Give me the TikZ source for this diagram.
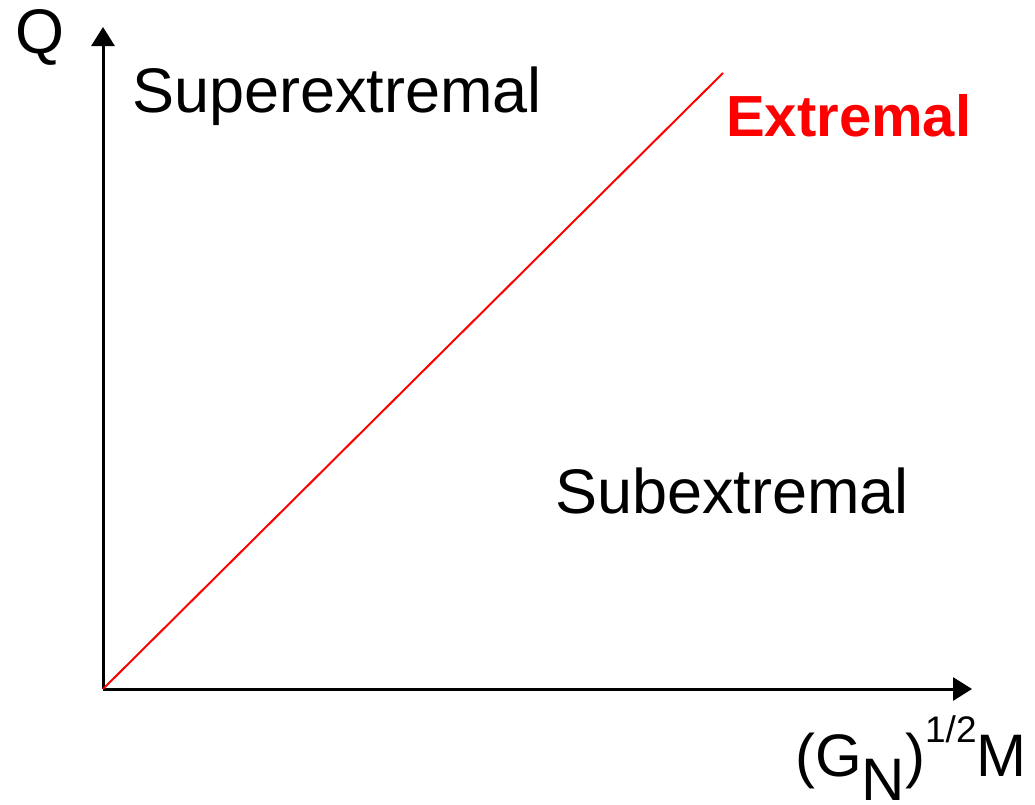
\documentclass[tikz,border=0pt]{standalone}
\usepackage{fontspec}
\setmainfont{Liberation Sans}
\usetikzlibrary{arrows.meta}
\begin{document}
\begin{tikzpicture}[x=1pt,y=-1pt,
  lbl/.style={inner sep=0pt,anchor=base west,font=\fontsize{63}{70}\selectfont},
  axis/.style={line width=3pt,-{Triangle[length=19pt,width=23pt]}},
  extline/.style={line width=2pt,red}]
\useasboundingbox (0,0) rectangle (1035,804);
\coordinate (O) at (103,689);
\coordinate (ytip) at (103,27);
\coordinate (xtip) at (972,689);
\coordinate (eend) at (723,73);
\draw[axis] (O) -- (ytip);
\draw[axis] (O) -- (xtip);
\draw[extline] (O) -- (eend);
\node[lbl] (q) at (15,53) {Q};
\node[lbl] (sup) at (132,112) {Superextremal};
\node[lbl] (sub) at (555,513) {Subextremal};
\node[lbl,text=red,font=\fontsize{58}{64}\selectfont\bfseries] (ext) at (726,136) {Extremal};
\node[lbl,font=\fontsize{60}{66}\selectfont] (xl) at (795,776) {(G\raisebox{-24pt}{N})\raisebox{34pt}{\fontsize{37}{40}\selectfont 1/2}M};
\end{tikzpicture}
\end{document}
